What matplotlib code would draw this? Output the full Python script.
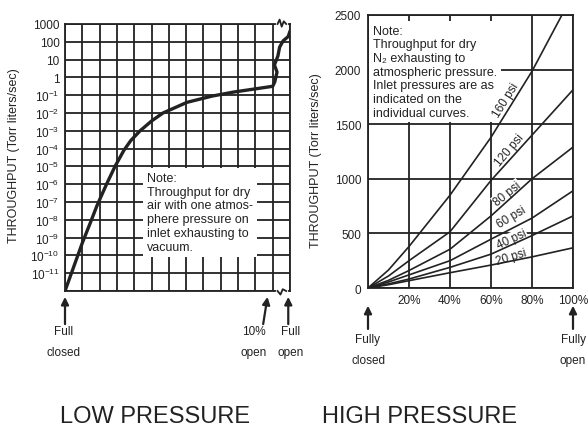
import matplotlib.pyplot as plt
from matplotlib.ticker import FixedLocator, NullLocator

plt.rcParams['font.family'] = ['Liberation Sans', 'DejaVu Sans']
plt.rcParams['mathtext.fontset'] = 'custom'
plt.rcParams['mathtext.rm'] = 'Liberation Sans'
plt.rcParams['mathtext.it'] = 'Liberation Sans:italic'

INK = '#222222'

# ---- low pressure valve: position in grid steps (0 = full closed, 12 = 10% open, 13 = full open)
low_pos = [0, 1.0, 1.45, 1.85, 2.4, 2.89, 3.4, 3.8, 4.34, 5.0, 5.66, 7.05, 8.5, 9.7, 12.0,
           12.12, 12.25, 12.1, 12.3, 12.4, 12.6, 12.9, 13.0]
low_log_q = [-12, -9.3, -8.2, -7.2, -6, -5, -4.1, -3.55, -3, -2.45, -2, -1.4, -1.05, -0.83, -0.5,
             -0.25, 0.3, 0.7, 1.2, 1.7, 2.05, 2.3, 2.6]
low_exp = list(range(3, -13, -1))
low_labels = ['1000', '100', '10', '1'] + ['10$^{%d}$' % e for e in range(-1, -12, -1)] + ['']

# ---- high pressure valve: % open vs throughput (Torr liters/sec)
open_pct = [0, 10, 20, 40, 60, 80, 100]
q_120 = [0, 110, 250, 515, 985, 1400, 1815]
q_80 = [0, 70, 160, 355, 660, 1000, 1290]
q_60 = [0, 55, 120, 250, 447, 640, 890]
q_40 = [0, 38, 82, 189, 310, 480, 660]
q_20 = [0, 30, 67, 140, 210, 285, 368]
open_160 = [0, 10, 20, 40, 60, 80, 94.6]
q_160 = [0, 165, 380, 850, 1380, 1985, 2500]

psi_labels = ['160 psi', '120 psi', '80 psi', '60 psi', '40 psi', '20 psi']
label_pos = [(67.3, 1724, 58), (69, 1270, 50), (67.8, 866, 39),
             (70, 657, 31), (70, 447, 25), (70, 283, 17)]

low_note = ("Note:\nThroughput for dry\nair with one atmos-\n"
            "phere pressure on\ninlet exhausting to\nvacuum.")
high_note = ("Note:\nThroughput for dry\nN\u2082 exhausting to\natmospheric pressure.\n"
             "Inlet pressures are as\nindicated on the\nindividual curves.")

fig = plt.figure(figsize=(5.88, 4.35), dpi=100)
ax1 = fig.add_axes([65 / 588, 1 - 292 / 435, 225 / 588, 267 / 435])
ax2 = fig.add_axes([368 / 588, 1 - 289 / 435, 205 / 588, 273 / 435])

# ---------------- LOW PRESSURE ----------------
ax1.set_yscale('log')
ax1.set_xlim(0, 13)
ax1.set_ylim(1e-12, 1e3)
ax1.set_xticks(range(14))
ax1.set_xticklabels([])
ax1.yaxis.set_major_locator(FixedLocator([10.0 ** e for e in low_exp]))
ax1.yaxis.set_minor_locator(NullLocator())
ax1.set_yticklabels(low_labels)
ax1.tick_params(length=0, labelsize=8.5, pad=4, colors=INK)
ax1.grid(True, color=INK, lw=1.3)
for s in ax1.spines.values():
    s.set_color(INK)
    s.set_linewidth(1.3)

ax1.plot(low_pos, [10.0 ** v for v in low_log_q], color=INK, lw=2.4, zorder=4,
         solid_joinstyle='round', solid_capstyle='round')

ax1.text(4.74, 10 ** -5.3, low_note, ha='left', va='top', fontsize=9, color=INK,
         linespacing=1.2, zorder=3,
         bbox=dict(facecolor='white', edgecolor='none', pad=3))

# break marks on top and bottom border
ax1.plot([12.28, 12.78], [1e3, 1e3], color='white', lw=3, clip_on=False, zorder=5)
ax1.plot([12.28, 12.4, 12.52, 12.64, 12.78], [1e3, 10 ** 3.25, 10 ** 2.85, 10 ** 3.15, 1e3],
         color=INK, lw=1.3, clip_on=False, zorder=6)
ax1.plot([12.28, 12.78], [1e-12, 1e-12], color='white', lw=3, clip_on=False, zorder=5)
ax1.plot([12.28, 12.45, 12.58, 12.78], [1e-12, 10 ** -12.2, 10 ** -11.9, 1e-12],
         color=INK, lw=1.3, clip_on=False, zorder=6)

ax1.set_ylabel('THROUGHPUT (Torr liters/sec)', fontsize=9, color=INK)
ax1.yaxis.set_label_coords(-0.2, 0.51)

tr1 = ax1.get_xaxis_transform()
arrow = dict(arrowstyle='-|>', color=INK, lw=1.6, mutation_scale=11, shrinkA=0, shrinkB=0)
for x_tip, x_tail, x_txt, txt in [(0, 0, -0.1, 'Full\nclosed'),
                                  (11.7, 11.45, 10.9, '10%\nopen'),
                                  (12.9, 12.9, 13.05, 'Full\nopen')]:
    ax1.annotate('', xy=(x_tip, -0.022), xycoords=tr1, xytext=(x_tail, -0.124),
                 textcoords=tr1, arrowprops=arrow)
    ax1.text(x_txt, -0.128, txt, transform=tr1, ha='center', va='top',
             fontsize=8.5, color=INK, linespacing=2.0)

# ---------------- HIGH PRESSURE ----------------
ax2.set_xlim(0, 100)
ax2.set_ylim(0, 2500)
ax2.set_xticks([0, 20, 40, 60, 80, 100])
ax2.set_xticklabels(['', '20%', '40%', '60%', '80%', '100%'])
ax2.set_yticks([0, 500, 1000, 1500, 2000, 2500])
ax2.tick_params(length=0, labelsize=8.5, colors=INK)
ax2.tick_params(axis='x', pad=4)
ax2.tick_params(axis='y', pad=5)
ax2.grid(True, color=INK, lw=1.3)
for s in ax2.spines.values():
    s.set_color(INK)
    s.set_linewidth(1.3)

ax2.plot(open_160, q_160, color=INK, lw=1.2, zorder=5)
for q in [q_120, q_80, q_60, q_40, q_20]:
    ax2.plot(open_pct, q, color=INK, lw=1.2, zorder=5)

for txt, (x, y, rot) in zip(psi_labels, label_pos):
    ax2.text(x, y, txt, rotation=rot, rotation_mode='anchor', ha='center', va='center',
             fontsize=8.5, color=INK, zorder=4,
             bbox=dict(facecolor='white', edgecolor='none', pad=0.5))

ax2.text(2.4, 2410, high_note, ha='left', va='top', fontsize=9, color=INK,
         linespacing=1.18, zorder=3,
         bbox=dict(facecolor='white', edgecolor='none', pad=2.5))

ax2.set_ylabel('THROUGHPUT (Torr liters/sec)', fontsize=9, color=INK)
ax2.yaxis.set_label_coords(-0.224, 0.47)

tr2 = ax2.get_xaxis_transform()
for x, txt in [(0, 'Fully\nclosed'), (100, 'Fully\nopen')]:
    ax2.annotate('', xy=(x, -0.065), xycoords=tr2, xytext=(x, -0.15),
                 textcoords=tr2, arrowprops=arrow)
    ax2.text(x, -0.165, txt, transform=tr2, ha='center', va='top',
             fontsize=8.5, color=INK, linespacing=2.0)

fig.text(155 / 588, 1 - 417 / 435, 'LOW PRESSURE', fontsize=17, ha='center', va='center', color=INK)
fig.text(420 / 588, 1 - 417 / 435, 'HIGH PRESSURE', fontsize=17, ha='center', va='center', color=INK)

fig.savefig('out.png', dpi=100, facecolor='white')
